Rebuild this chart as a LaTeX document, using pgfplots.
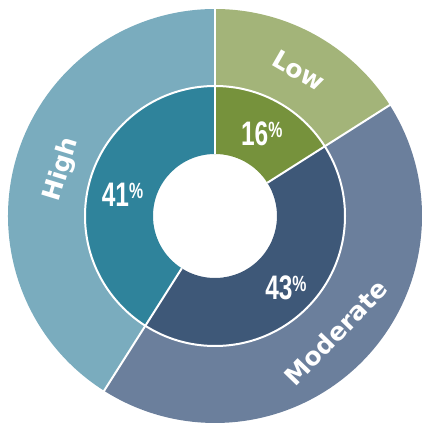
\documentclass[border=0pt]{standalone}
\usepackage{pgfplots}
\pgfplotsset{compat=1.18}
\usepackage{fontspec}
\setmainfont{DejaVu Sans}
\newfontfamily\pctfont{Liberation Sans}
\definecolor{lowIn}{RGB}{118,146,60}
\definecolor{lowOut}{RGB}{163,180,121}
\definecolor{modIn}{RGB}{62,88,120}
\definecolor{modOut}{RGB}{107,127,156}
\definecolor{highIn}{RGB}{47,131,155}
\definecolor{highOut}{RGB}{122,172,190}
% shares (percent): Low, Moderate, High
\def\vLow{16}
\def\vMod{43}
\def\vHigh{41}
% sector: colour, start angle, end angle, inner r, outer r
\newcommand{\sector}[5]{%
  \fill[#1] (axis cs:{#5*cos(#2)},{#5*sin(#2)}) arc[start angle=#2, end angle=#3, radius=#5 pt]
    -- (axis cs:{#4*cos(#3)},{#4*sin(#3)}) arc[start angle=#3, end angle=#2, radius=#4 pt] -- cycle;}
\newcommand{\pct}[1]{{\pctfont\bfseries\fontsize{34}{34}\selectfont #1\raisebox{8pt}{\fontsize{22}{22}\selectfont\%}}}
\begin{document}
\begin{tikzpicture}
\begin{axis}[x=1pt, y=1pt, xmin=-215, xmax=207, ymin=-210, ymax=216,
  hide axis, clip=true]
\addplot[draw=none] coordinates {(-215,-210) (207,216)};
% outer ring
\sector{lowOut}{90}{90-3.6*\vLow}{130}{207}
\sector{modOut}{90-3.6*\vLow}{90-3.6*(\vLow+\vMod)}{130}{207}
\sector{highOut}{90-3.6*(\vLow+\vMod)}{-270}{130}{207}
% inner ring
\sector{lowIn}{90}{90-3.6*\vLow}{62}{130}
\sector{modIn}{90-3.6*\vLow}{90-3.6*(\vLow+\vMod)}{62}{130}
\sector{highIn}{90-3.6*(\vLow+\vMod)}{-270}{62}{130}
% white separators
\draw[white, line width=2pt] (axis cs:0,0) circle[radius=130pt];
\draw[white, line width=2pt] (axis cs:0,62) -- (axis cs:0,210);
\draw[white, line width=2pt] (axis cs:{62*cos(90-3.6*\vLow)},{62*sin(90-3.6*\vLow)}) -- (axis cs:{210*cos(90-3.6*\vLow)},{210*sin(90-3.6*\vLow)});
\draw[white, line width=2pt] (axis cs:{62*cos(90-3.6*(\vLow+\vMod))},{62*sin(90-3.6*(\vLow+\vMod))}) -- (axis cs:{210*cos(90-3.6*(\vLow+\vMod))},{210*sin(90-3.6*(\vLow+\vMod))});
% outer labels
\node[text=white, font=\bfseries\fontsize{25}{25}\selectfont, rotate=-30] at (axis cs:{168*cos(60)},{168*sin(60)}) {Low};
\node[text=white, font=\bfseries\fontsize{25}{25}\selectfont, rotate=73] at (axis cs:{160*cos(163)},{160*sin(163)}) {High};
\node[text=white, font=\bfseries\fontsize{25}{25}\selectfont, rotate=46] at (axis cs:{168*cos(-44)},{168*sin(-44)}) {Moderate};
% inner labels
\node[text=white, xscale=0.72] at (axis cs:{95*cos(60.5)},{95*sin(60.5)}) {\pct{16}};
\node[text=white, xscale=0.72] at (axis cs:{95*cos(167)},{95*sin(167)}) {\pct{41}};
\node[text=white, xscale=0.72] at (axis cs:{101*cos(-45.4)},{101*sin(-45.4)}) {\pct{43}};
\end{axis}
\end{tikzpicture}
\end{document}
